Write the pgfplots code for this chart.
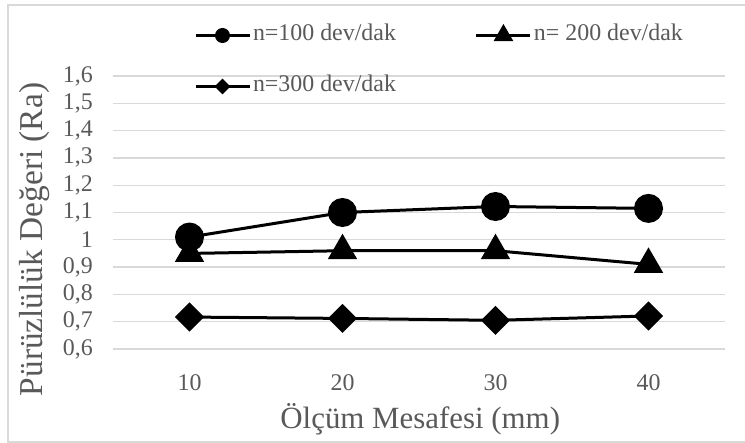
\documentclass[border=0pt]{standalone}
\usepackage{fontspec}
\setmainfont{Liberation Serif}
\usepackage{pgfplots}
\pgfplotsset{compat=1.18}
\definecolor{txt}{HTML}{595959}
\definecolor{grd}{HTML}{D9D9D9}
\begin{document}
\begin{tikzpicture}
\begin{axis}[
  scale only axis,
  width=612bp, height=273bp,
  xmin=0.5, xmax=4.5, ymin=0.6, ymax=1.6,
  xtick={1,2,3,4}, xticklabels={10,20,30,40},
  ytick={0.6,0.7,0.8,0.9,1.0,1.1,1.2,1.3,1.4,1.5,1.6},
  yticklabels={{0,6},{0,7},{0,8},{0,9},1,{1,1},{1,2},{1,3},{1,4},{1,5},{1,6}},
  axis line style={draw=none},
  major tick length=0pt,
  ymajorgrids, grid style={grd, line width=1.3bp},
  ticklabel style={font=\fontsize{24}{28}\selectfont, text=txt},
  xticklabel style={anchor=base, inner sep=0pt, yshift=-41bp},
  yticklabel style={anchor=east, inner sep=0pt, xshift=-20bp},
  xlabel={Ölçüm Mesafesi (mm)},
  ylabel={Pürüzlülük Değeri (Ra)},
  xlabel style={font=\fontsize{31}{36}\selectfont, text=txt, at={(rel axis cs:0.502,-0.293)}, anchor=base},
  ylabel style={font=\fontsize{33.5}{38}\selectfont, text=txt, rotate=0, at={(rel axis cs:-0.129,0.401)}, anchor=center},
  clip=false,
  legend columns=2,
  legend style={draw=none, fill=none, inner sep=0pt, outer sep=0pt,
    at={(rel axis cs:0,0)}, anchor=north west, xshift=81bp, yshift=326bp,
    font=\fontsize{24}{28}\selectfont, text=txt,
    nodes={inner sep=1bp, text height=17bp, text depth=6bp},
    row sep=26bp,
    /tikz/column 1/.style={column sep=1bp},
    /tikz/column 2/.style={column sep=78bp},
    /tikz/column 3/.style={column sep=1bp}},
  legend cell align=left,
  legend image code/.code={\draw[mark repeat=2,mark phase=2] plot coordinates {(0bp,0bp) (27bp,0bp) (54bp,0bp)};},
]
\addlegendimage{black, line width=3bp, mark=*, mark size=6bp}
\addlegendentry{n=100 dev/dak}
\addlegendimage{black, line width=3bp, mark=triangle*, mark size=8.5bp}
\addlegendentry{n= 200 dev/dak}
\addlegendimage{black, line width=3bp, mark=square*, mark size=4bp, mark options={rotate=45}}
\addlegendentry{n=300 dev/dak}
\addplot[forget plot, black, line width=3bp, mark=*, mark size=13bp] coordinates {(1,1.01) (2,1.10) (3,1.122) (4,1.115)};
\addplot[forget plot, black, line width=3bp, mark=triangle*, mark size=14bp] coordinates {(1,0.95) (2,0.96) (3,0.96) (4,0.91)};
\addplot[forget plot, black, line width=3bp, mark=square*, mark size=8.8bp, mark options={rotate=45}] coordinates {(1,0.717) (2,0.712) (3,0.705) (4,0.721)};
\coordinate (O) at (rel axis cs:0,0);
\end{axis}
\draw[grd, line width=1.3bp] ([shift={(-105bp,-93bp)}]O) rectangle ([shift={(639bp,344bp)}]O);
\pgfresetboundingbox
\path[use as bounding box] ([shift={(-113bp,-94bp)}]O) rectangle ([shift={(632bp,349bp)}]O);
\end{tikzpicture}
\end{document}
